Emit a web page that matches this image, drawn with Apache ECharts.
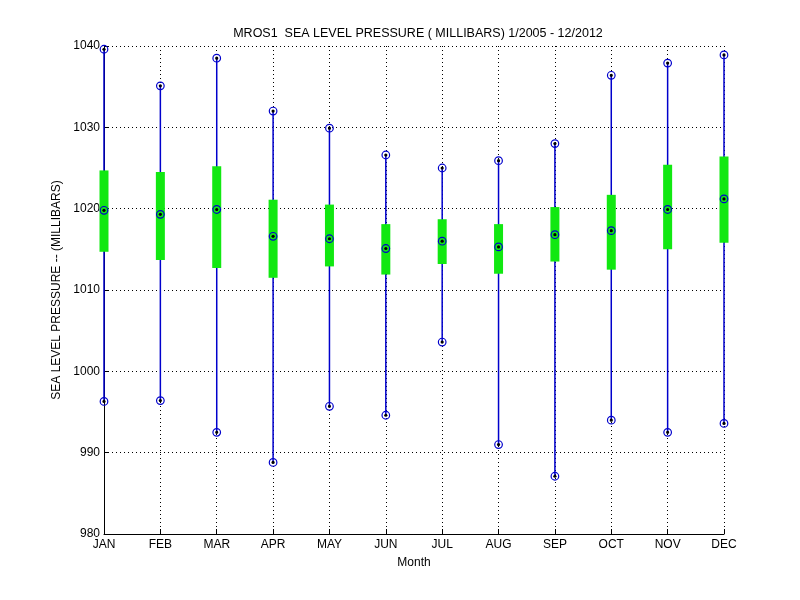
<!DOCTYPE html>
<html>
<head>
<meta charset="utf-8">
<script src="https://cdn.jsdelivr.net/npm/echarts@6/dist/echarts.min.js"></script>
<style>
  html, body { margin: 0; padding: 0; background: #fff; }
  #chart { width: 800px; height: 600px; }
</style>
</head>
<body>
<div id="chart"></div>
<script>
// monthly sea level pressure statistics (millibars)
var months = ["JAN", "FEB", "MAR", "APR", "MAY", "JUN", "JUL", "AUG", "SEP", "OCT", "NOV", "DEC"];
var maxVals = [1039.6, 1035.1, 1038.5, 1032.0, 1029.9, 1026.6, 1025.0, 1025.9, 1028.0, 1036.4, 1037.9, 1038.9];
var q3Vals  = [1024.7, 1024.5, 1025.2, 1021.1, 1020.5, 1018.1, 1018.7, 1018.1, 1020.2, 1021.7, 1025.4, 1026.4];
var medVals = [1019.8, 1019.3, 1019.9, 1016.6, 1016.3, 1015.1, 1016.0, 1015.3, 1016.8, 1017.3, 1019.9, 1021.2];
var q1Vals  = [1014.7, 1013.7, 1012.7, 1011.5, 1012.9, 1011.9, 1013.2, 1012.0, 1013.5, 1012.5, 1015.0, 1015.8];
var minVals = [996.3, 996.4, 992.5, 988.8, 995.7, 994.6, 1003.6, 991.0, 987.1, 994.0, 992.5, 993.6];
var yTicks = [980, 990, 1000, 1010, 1020, 1030, 1040];

var FONT = "Liberation Sans";

var boxData = months.map(function (m, i) {
  return [i, minVals[i], q1Vals[i], medVals[i], q3Vals[i], maxVals[i]];
});

function marker(p) {
  return [
    { type: "circle", shape: { cx: p[0], cy: p[1], r: 3.8 },
      style: { fill: null, stroke: "#0000cc", lineWidth: 1.2 } },
    { type: "circle", shape: { cx: p[0], cy: p[1], r: 1.6 },
      style: { fill: "#000", stroke: null } }
  ];
}

function renderBox(params, api) {
  var x = api.value(0);
  var pMin = api.coord([x, api.value(1)]);
  var pQ1 = api.coord([x, api.value(2)]);
  var pMed = api.coord([x, api.value(3)]);
  var pQ3 = api.coord([x, api.value(4)]);
  var pMax = api.coord([x, api.value(5)]);
  var w = 9;
  var children = [
    { type: "line", shape: { x1: pMin[0], y1: pMin[1], x2: pMax[0], y2: pMax[1] },
      style: { stroke: "#0000cc", lineWidth: 1.5 } },
    { type: "rect", shape: { x: pQ3[0] - w / 2, y: pQ3[1], width: w, height: pQ1[1] - pQ3[1] },
      style: { fill: "#11e811" } }
  ];
  children = children.concat(marker(pMax), marker(pMed), marker(pMin));
  return { type: "group", children: children };
}

var chart = echarts.init(document.getElementById("chart"), null, { renderer: "canvas" });

var option = {
  animation: false,
  backgroundColor: "#fff",
  title: {
    text: "MROS1  SEA LEVEL PRESSURE ( MILLIBARS) 1/2005 - 12/2012",
    left: 413,
    top: 22,
    textAlign: "center",
    textStyle: { fontFamily: FONT, fontSize: 12.5, fontWeight: "normal", color: "#000" }
  },
  grid: { left: 104, right: 76, top: 46, bottom: 66, containLabel: false },
  xAxis: {
    type: "category",
    data: months,
    boundaryGap: false,
    name: "Month",
    nameLocation: "middle",
    nameGap: 23,
    nameTextStyle: { fontFamily: FONT, fontSize: 12, color: "#000" },
    axisLine: { lineStyle: { color: "#000", width: 1 } },
    axisTick: { inside: true, length: 5, alignWithLabel: true, lineStyle: { color: "#000" } },
    axisLabel: { fontFamily: FONT, fontSize: 12, color: "#000", margin: 5, interval: 0 },
    splitLine: { show: true, lineStyle: { color: "#000", type: [1, 3], width: 1 } }
  },
  yAxis: {
    type: "value",
    min: yTicks[0],
    max: yTicks[yTicks.length - 1],
    interval: 10,
    name: "SEA LEVEL PRESSURE -- (MILLIBARS)",
    nameLocation: "middle",
    nameGap: 35,
    nameTextStyle: { fontFamily: FONT, fontSize: 12, color: "#000" },
    axisLine: { show: true, lineStyle: { color: "#000", width: 1 } },
    axisTick: { show: true, inside: true, length: 5, lineStyle: { color: "#000" } },
    axisLabel: {
      fontFamily: FONT, fontSize: 12, color: "#000", margin: 4,
      formatter: function (v) { return String(v); }
    },
    splitLine: { show: true, lineStyle: { color: "#000", type: [1, 3], width: 1 } }
  },
  series: [
    {
      type: "custom",
      renderItem: renderBox,
      data: boxData,
      encode: { x: 0, y: [1, 2, 3, 4, 5] },
      clip: false,
      z: 5
    }
  ]
};

chart.setOption(option);
</script>
</body>
</html>
